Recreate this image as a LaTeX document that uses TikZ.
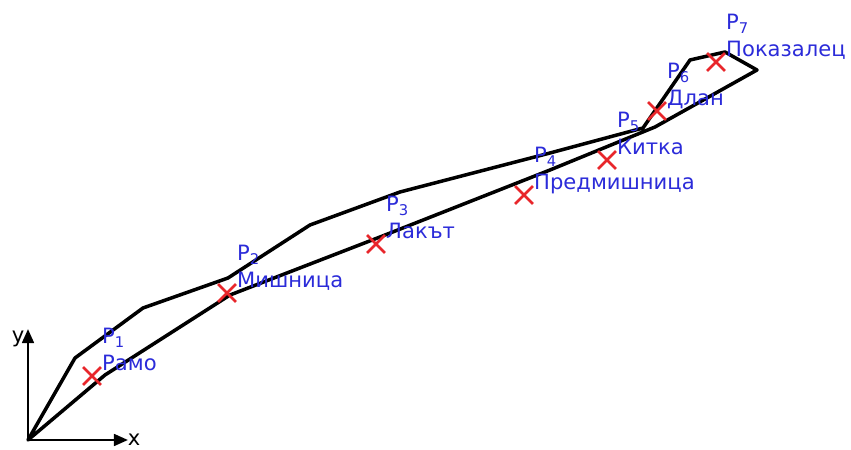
\documentclass[tikz,border=0pt]{standalone}
\usepackage{fontspec}
\setmainfont{DejaVu Sans}
\usetikzlibrary{arrows.meta,shapes.misc}
\definecolor{labelblue}{HTML}{2B2BD9}
\definecolor{markred}{HTML}{E8262B}

\begin{document}
\begin{tikzpicture}[x=0.3mm,y=0.3mm,
    lbl/.style={anchor=north west,inner sep=0pt,align=left,text=labelblue,shift={(10,48)},font=\fontsize{18}{23}\selectfont},
    axlbl/.style={anchor=base,inner sep=1pt,font=\fontsize{18}{23}\selectfont},
    xmark/.style={cross out,draw=markred,line width=2.3pt,minimum size=13pt,inner sep=0pt}]
    \useasboundingbox (-28,-10) rectangle (823,440);
    % axes
    \coordinate (o) at (0,0);
    \coordinate (xend) at (100,0);
    \coordinate (yend) at (0,111);
    \draw[line width=2.2pt,-{Triangle[length=12pt,width=10pt]}] (o) -- (xend);
    \draw[line width=2.2pt,-{Triangle[length=12pt,width=10pt]}] (o) -- (yend);
    \node[axlbl] (xlab) at (106,-6) {x};
    \node[axlbl] (ylab) at (-10,97) {y};
    % arm outline
    \draw[line width=3pt,line join=round] (o) -- (47,82) -- (115,132) -- (200,162) -- (282,215) -- (372,248) -- (522,287) -- (615,312) -- (662,380) -- (697,388) -- (729,370) -- (627,313) -- (522,270) -- (352,203) -- (202,145) -- (77,65) -- cycle;
    % points
    \node[xmark] (p1) at (64,64) {};
    \node[xmark] (p2) at (199,147) {};
    \node[xmark] (p3) at (348,196) {};
    \node[xmark] (p4) at (496,245) {};
    \node[xmark] (p5) at (579,280) {};
    \node[xmark] (p6) at (629,329) {};
    \node[xmark] (p7) at (688,378) {};
    \node[lbl] (l1) at (p1) {P\textsubscript{1}\\Рамо};
    \node[lbl] (l2) at (p2) {P\textsubscript{2}\\Мишница};
    \node[lbl] (l3) at (p3) {P\textsubscript{3}\\Лакът};
    \node[lbl] (l4) at (p4) {P\textsubscript{4}\\Предмишница};
    \node[lbl] (l5) at (p5) {P\textsubscript{5}\\Китка};
    \node[lbl] (l6) at (p6) {P\textsubscript{6}\\Длан};
    \node[lbl] (l7) at (p7) {P\textsubscript{7}\\Показалец};
\end{tikzpicture}
\end{document}
